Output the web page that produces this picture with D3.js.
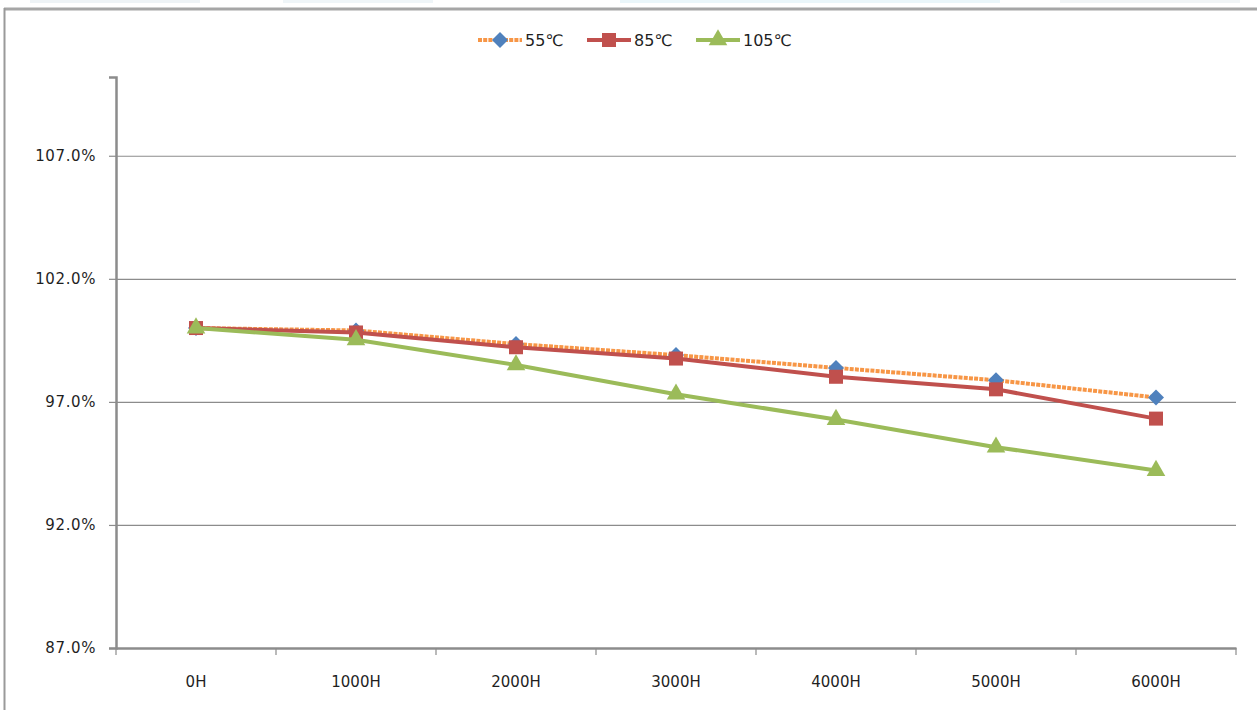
<!DOCTYPE html>
<html>
<head>
<meta charset="utf-8">
<script src="https://cdn.jsdelivr.net/npm/d3@7"></script>
<style>
  body { margin: 0; background: #fff; }
  svg { display: block; }
  text { font-family: "DejaVu Sans", Verdana, sans-serif; fill: #1f1f1f; }
</style>
</head>
<body>
<div id="chart"></div>
<script>
const categories = ["0H", "1000H", "2000H", "3000H", "4000H", "5000H", "6000H"]
const seriesNames = ["55℃", "85℃", "105℃"]
const values55 = [100.0, 99.9, 99.35, 98.9, 98.38, 97.88, 97.18]
const values85 = [100.0, 99.82, 99.22, 98.76, 98.02, 97.51, 96.32]
const values105 = [100.0, 99.52, 98.5, 97.31, 96.28, 95.16, 94.21]
const yTicks = [87, 92, 97, 102, 107]

const width = 1257
const height = 710

// diamond = square turned 45 degrees, like the Excel marker
const series = [
    { name: seriesNames[0], values: values55, line: "#F79646", marker: "#4F81BD", shape: d3.symbolSquare, size: 128, rot: 45, dash: "4,1.2" },
    { name: seriesNames[1], values: values85, line: "#C0504D", marker: "#C0504D", shape: d3.symbolSquare, size: 196, rot: 0, dash: null },
    { name: seriesNames[2], values: values105, line: "#9BBB59", marker: "#9BBB59", shape: d3.symbolTriangle, size: 150, rot: 0, dash: null }
]

const svg = d3.select("#chart")
    .append("svg")
    .attr("width", width)
    .attr("height", height)

// screenshot leftovers along the top edge
const strip = svg.append("g")
strip.append("rect").attr("x", 30).attr("y", 0).attr("width", 170).attr("height", 3).attr("fill", "#eef3f6")
strip.append("rect").attr("x", 283).attr("y", 0).attr("width", 150).attr("height", 3).attr("fill", "#eff5f8")
strip.append("rect").attr("x", 620).attr("y", 0).attr("width", 380).attr("height", 3).attr("fill", "#eaf6fa")
strip.append("rect").attr("x", 1060).attr("y", 0).attr("width", 180).attr("height", 3).attr("fill", "#f0f4f6")

// chart frame
svg.append("line").attr("x1", 4).attr("x2", width).attr("y1", 9).attr("y2", 9)
    .attr("stroke", "#a6a6a6").attr("stroke-width", 3)
svg.append("line").attr("x1", 4.5).attr("x2", 4.5).attr("y1", 8).attr("y2", height)
    .attr("stroke", "#9a9a9a").attr("stroke-width", 2)

const xScale = d3.scaleBand()
    .domain(categories)
    .range([116, 1236])
    .padding(0)

const yScale = d3.scaleLinear()
    .domain([87, 110.2])
    .range([648, 77])

const xc = (d) => xScale(d) + xScale.bandwidth() / 2

// gridlines
svg.append("g")
    .selectAll("line")
    .data(yTicks.slice(1))
    .enter()
    .append("line")
    .attr("x1", 116)
    .attr("x2", 1236)
    .attr("y1", (d) => yScale(d) + 0.5)
    .attr("y2", (d) => yScale(d) + 0.5)
    .attr("stroke", "#8c8c8c")
    .attr("stroke-width", 1.2)

// y axis
const yAxis = d3.axisLeft(yScale)
    .tickValues(yTicks)
    .tickSize(7)
    .tickPadding(13)
    .tickFormat((d) => d.toFixed(1) + "%")

const yg = svg.append("g")
    .attr("transform", "translate(116,0)")
    .call(yAxis)
yg.select(".domain").attr("stroke", "#8c8c8c").attr("stroke-width", 2.5)
yg.selectAll(".tick line").attr("stroke", "#8c8c8c").attr("stroke-width", 1.2)
yg.selectAll(".tick text").attr("font-size", 15).attr("letter-spacing", 0.6).attr("fill", "#1f1f1f")
    .attr("font-family", "DejaVu Sans")

// x axis
const xAxis = d3.axisBottom(xScale)
    .tickSize(0)
    .tickPadding(28)

const xg = svg.append("g")
    .attr("transform", "translate(0,648)")
    .call(xAxis)
xg.select(".domain").attr("stroke", "#8c8c8c").attr("stroke-width", 2.5)
xg.selectAll(".tick text").attr("font-size", 15).attr("fill", "#1f1f1f")
    .attr("font-family", "DejaVu Sans")

// category boundary ticks
xg.append("g")
    .selectAll("line")
    .data(categories.concat(["end"]))
    .enter()
    .append("line")
    .attr("x1", (d, i) => i < categories.length ? xScale(d) : xScale.range()[1])
    .attr("x2", (d, i) => i < categories.length ? xScale(d) : xScale.range()[1])
    .attr("y1", 0)
    .attr("y2", 7)
    .attr("stroke", "#8c8c8c")
    .attr("stroke-width", 1.2)

// series
const line = d3.line()
    .x((d, i) => xc(categories[i]))
    .y((d) => yScale(d))

series.forEach((s) => {
    const g = svg.append("g")
    g.append("path")
        .datum(s.values)
        .attr("d", line)
        .attr("fill", "none")
        .attr("stroke", s.line)
        .attr("stroke-width", 4)
        .attr("stroke-dasharray", s.dash)
    g.selectAll("path.marker")
        .data(s.values)
        .enter()
        .append("path")
        .attr("class", "marker")
        .attr("d", d3.symbol().type(s.shape).size(s.size))
        .attr("transform", (d, i) => `translate(${xc(categories[i])},${yScale(d)}) rotate(${s.rot})`)
        .attr("fill", s.marker)
})

// legend
const legendX = [478, 587, 696]
const legend = svg.append("g")
series.forEach((s, i) => {
    const lg = legend.append("g").attr("transform", `translate(${legendX[i]},40)`)
    lg.append("line")
        .attr("x1", 0).attr("x2", 44).attr("y1", 0).attr("y2", 0)
        .attr("stroke", s.line).attr("stroke-width", 4)
        .attr("stroke-dasharray", s.dash)
    lg.append("path")
        .attr("d", d3.symbol().type(s.shape).size(s.size))
        .attr("transform", `translate(22,0) rotate(${s.rot})`)
        .attr("fill", s.marker)
    lg.append("text")
        .attr("x", 47)
        .attr("y", 0)
        .attr("dy", "0.36em")
        .attr("font-size", 16)
        .text(s.name)
})
</script>
</body>
</html>
